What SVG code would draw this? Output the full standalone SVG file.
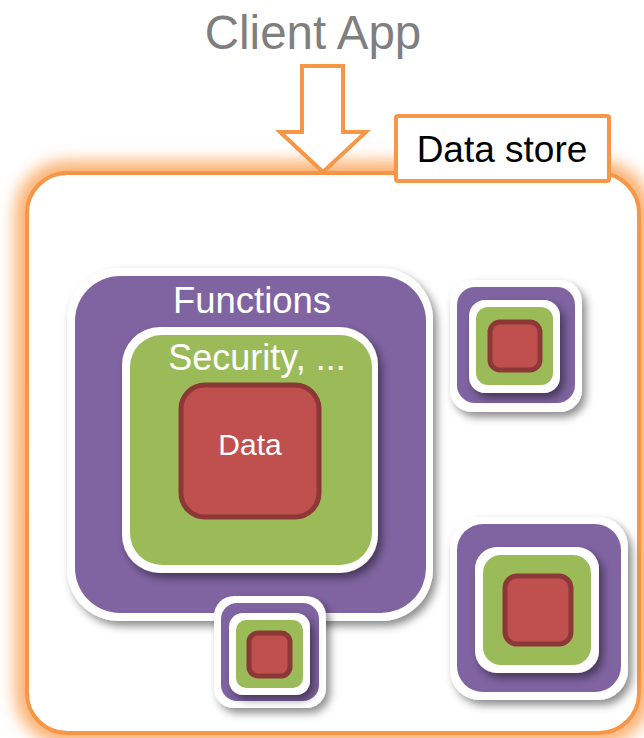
<svg xmlns="http://www.w3.org/2000/svg" width="644" height="738" viewBox="0 0 644 738">
<style>
.lbl{font-family:"Liberation Sans",Arial,sans-serif;text-anchor:middle}
.wht{fill:#fff}
.pur{fill:#8064a2}
.grn{fill:#9bbb59}
.red{fill:#c0504d;stroke:#8c3836;stroke-width:5}
.orng{fill:#fff;stroke:#f79646;stroke-width:4}
</style>
<defs>
<filter id="glow" x="-20%" y="-20%" width="140%" height="140%">
<feGaussianBlur stdDeviation="8"/>
</filter>
<filter id="sh" x="-20%" y="-20%" width="150%" height="150%">
<feDropShadow dx="4" dy="5" stdDeviation="4" flood-color="#000" flood-opacity="0.45"/>
</filter>
</defs>
<rect width="644" height="738" fill="#fff"/>
<g id="client-app">
<text class="lbl" x="313" y="49" font-size="47.5" fill="#7f7f7f">Client App</text>
</g>
<g id="data-store">
<rect x="27" y="173" width="612" height="560" rx="40" fill="none" stroke="#fbb070" stroke-width="24" filter="url(#glow)"/>
<rect class="orng" x="27" y="173" width="612" height="560" rx="40"/>
</g>
<g id="functions">
<rect class="wht" x="67" y="268" width="366" height="353" rx="52" filter="url(#sh)"/>
<rect class="pur" x="75" y="276" width="351" height="337" rx="45"/>
<text class="lbl" x="252" y="313" font-size="36.5" fill="#fff">Functions</text>
<rect class="wht" x="122" y="327" width="256" height="246" rx="38" filter="url(#sh)"/>
<rect class="grn" x="130" y="335" width="242" height="230" rx="32"/>
<text class="lbl" x="257" y="370" font-size="36" fill="#fff">Security, ...</text>
<rect class="red" x="181" y="385" width="138" height="132" rx="24"/>
<text class="lbl" x="250" y="455" font-size="30" fill="#fff">Data</text>
</g>
<g id="store-top-right">
<rect class="wht" x="450" y="280" width="132" height="132" rx="22" filter="url(#sh)"/>
<rect class="pur" x="457" y="287" width="118" height="116" rx="18"/>
<rect class="wht" x="469" y="300" width="91" height="93" rx="16" filter="url(#sh)"/>
<rect class="grn" x="476" y="307" width="77" height="78" rx="12"/>
<rect class="red" x="490" y="322" width="50" height="48" rx="10"/>
</g>
<g id="store-bottom">
<rect class="wht" x="214" y="596" width="112" height="112" rx="20" filter="url(#sh)"/>
<rect class="pur" x="221" y="603" width="98" height="98" rx="16"/>
<rect class="wht" x="229" y="613" width="81" height="82" rx="14" filter="url(#sh)"/>
<rect class="grn" x="236" y="620" width="67" height="68" rx="10"/>
<rect class="red" x="249" y="633" width="41" height="43" rx="9"/>
</g>
<g id="store-bottom-right">
<rect class="wht" x="450" y="517" width="178" height="183" rx="30" filter="url(#sh)"/>
<rect class="pur" x="457" y="524" width="164" height="168" rx="26"/>
<rect class="wht" x="475" y="547" width="124" height="126" rx="22" filter="url(#sh)"/>
<rect class="grn" x="483" y="555" width="108" height="110" rx="18"/>
<rect class="red" x="505" y="576" width="66" height="68" rx="12"/>
</g>
<g id="connectors">
<path class="orng" d="M302 66 H343 V132 H366 L323 172 L280 132 H302 Z" stroke-linejoin="miter"/>
</g>
<g id="data-store-label">
<rect class="orng" x="396" y="116" width="213" height="65" rx="2"/>
<text class="lbl" x="502" y="162" font-size="37" fill="#000">Data store</text>
</g>
</svg>
